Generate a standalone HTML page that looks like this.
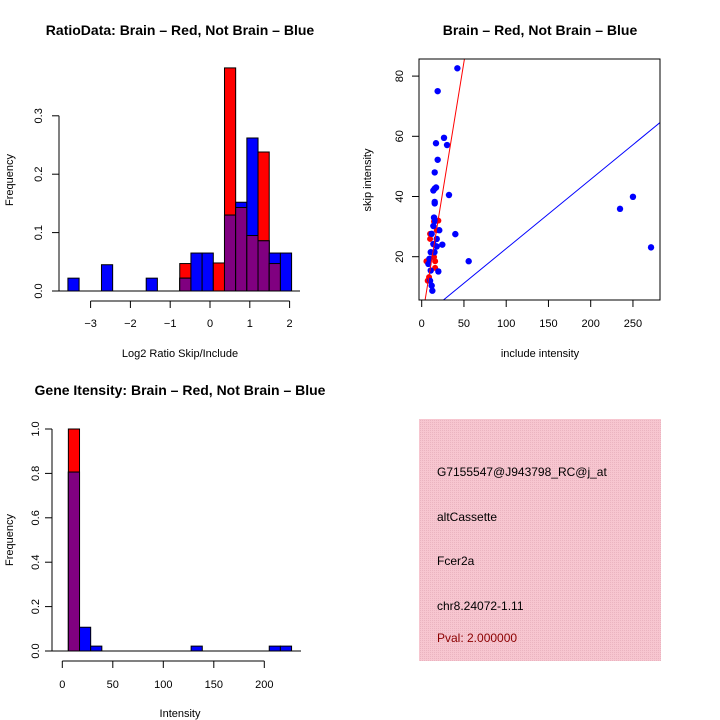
<!DOCTYPE html>
<html><head><meta charset="utf-8"><style>
body{margin:0;background:#fff;}
svg{display:block;font-family:"Liberation Sans",sans-serif;}
</style></head><body>
<svg id="c" width="720" height="720" xmlns="http://www.w3.org/2000/svg">
<defs><pattern id="pk" width="2" height="2" patternUnits="userSpaceOnUse"><rect width="2" height="2" fill="#f7c6d0"/><rect width="1" height="1" fill="#eab4c0"/></pattern></defs>
</svg>
<script>
// ---- Histogram 1 data (Log2 ratio) ----
const h1Start = -3.57, h1Width = 0.281;
const h1Red  = [0,0,0,0,0,0,0,0,0,0,0.047,0,0,0.048,0.382,0.143,0.095,0.238,0.047,0];
const h1Blue = [0.022,0,0,0.045,0,0,0,0.022,0,0,0.022,0.065,0.065,0,0.130,0.152,0.262,0.086,0.065,0.065];
const h1XTicks = [-3,-2,-1,0,1,2];
const h1YTicks = [0,0.1,0.2,0.3];
// ---- Scatter data ----
const blueX = [42.2,18.9,26.4,16.9,30,18.9,15.4,13.8,15.4,17,32.3,15.4,15.4,39.8,234.7,250,271.4,55.6,24.4,20.8,19.7,14.6,15.9,13.8,11.8,17.8,13.8,10.7,15.1,9.1,7.9,10.7,11.8,12.6,9.9,17.8];
const blueY = [82.6,75,59.5,57.7,57.1,52.2,48,42,42.6,43,40.5,38.2,37.7,27.5,35.9,39.9,23.1,18.5,24,28.8,15.1,33,31.9,30.2,27.6,25.9,24.2,21.5,21.5,19.3,17.6,15.4,10.4,8.7,12,23.4];
const redX = [9.9,9.9,7.9,5.6,8.7,7.1,15.9,14.6,15.9,14.6,17.8,19.7];
const redY = [27.6,25.9,17.6,18.5,13.2,12,18.5,19.9,16.3,31.7,28.8,32];
const redLine = [1.72,-1.3];   // slope, intercept
const blueLine = [0.23,-0.3];
const scXTicks = [0,50,100,150,200,250];
const scYTicks = [20,40,60,80];
// ---- Histogram 2 data (Intensity) ----
const h2Start = 6, h2Width = 11.05;
const h2Red  = [1.0,0,0,0,0,0,0,0,0,0,0,0,0,0,0,0,0,0,0,0];
const h2Blue = [0.806,0.107,0.022,0,0,0,0,0,0,0,0,0.022,0,0,0,0,0,0,0.022,0.022];
const h2XTicks = [0,50,100,150,200];
const h2YTicks = [0,0.2,0.4,0.6,0.8,1.0];
// ---- Info text ----
const infoLines = ["G7155547@J943798_RC@j_at","altCassette","Fcer2a","chr8.24072-1.11","Pval: 2.000000"];

const svg=document.getElementById('c');
const NS='http://www.w3.org/2000/svg';
function mk(tag,attrs,parent){const e=document.createElementNS(NS,tag);for(const k in attrs)e.setAttribute(k,attrs[k]);(parent||svg).appendChild(e);return e;}
function txt(s,x,y,size,anchor,extra,parent){const e=mk('text',Object.assign({x:x,y:y,'font-size':size,'text-anchor':anchor||'middle'},extra||{}),parent);e.textContent=s;return e;}

function hist(name,start,w,red,blue,xs,ys){
  const g=mk('g',{});
  
  
  for(let i=0;i<red.length;i++){
    const x0=xs(start+i*w),x1=xs(start+(i+1)*w);
    const r=red[i],b=blue[i];
    if(r>0){const e=mk('rect',{x:x0,y:ys(r),width:x1-x0,height:ys(0)-ys(r),fill:'#f00',stroke:'#000','stroke-width':1},g);
      }
    if(b>0){const e=mk('rect',{x:x0,y:ys(b),width:x1-x0,height:ys(0)-ys(b),fill:'#00f',stroke:'#000','stroke-width':1},g);
      }
    const m=Math.min(r,b);
    if(m>0){const e=mk('rect',{x:x0,y:ys(m),width:x1-x0,height:ys(0)-ys(m),fill:'#800080',stroke:'#000','stroke-width':1},g);
      }
  }
  return g;
}

// ---------- Histogram 1 ----------
(function(){
  const xs=v=>210+v*39.8, ys=v=>291-v*584;
  hist('ratio-histogram',h1Start,h1Width,h1Red,h1Blue,xs,ys);
  mk('line',{x1:59,y1:ys(0),x2:59,y2:ys(0.3),stroke:'#000'});
  h1YTicks.forEach(t=>{mk('line',{x1:52,y1:ys(t),x2:59,y2:ys(t),stroke:'#000'});
    txt(t.toFixed(1),0,0,11,'middle',{transform:`translate(42,${ys(t)}) rotate(-90)`});});
  mk('line',{x1:59,y1:291,x2:300,y2:291,stroke:'#000'});
  mk('line',{x1:xs(-3),y1:301,x2:xs(2),y2:301,stroke:'#000'});
  h1XTicks.forEach(t=>{mk('line',{x1:xs(t),y1:301,x2:xs(t),y2:308,stroke:'#000'});txt(t<0?'−'+(-t):''+t,xs(t),327,11);});
  txt('RatioData: Brain – Red, Not Brain – Blue',180,35,14,'middle',{'font-weight':'bold',});
  txt('Log2 Ratio Skip/Include',180,357,11,'middle',{});
  txt('Frequency',0,0,11,'middle',{transform:'translate(13,180) rotate(-90)',});
})();

// ---------- Scatter ----------
(function(){
  const xs=v=>421.7+v*0.845, ys=v=>256.7-(v-20)*3.01;
  const L=419,R=660,T=59,B=300;
  const g=mk('g',{});
  
  
  const cp=mk('clipPath',{id:'sc'});mk('rect',{x:L,y:T,width:R-L,height:B-T},cp);
  const pts=mk('g',{'clip-path':'url(#sc)'},g);
  function line(p,col){const xa=-5,xb=290;mk('line',{x1:xs(xa),y1:ys(p[0]*xa+p[1]),x2:xs(xb),y2:ys(p[0]*xb+p[1]),stroke:col,'stroke-width':1},pts);}
  for(let i=0;i<redX.length;i++){const e=mk('circle',{cx:xs(redX[i]),cy:ys(redY[i]),r:3,fill:'#f00'},pts);
    }
  for(let i=0;i<blueX.length;i++){const e=mk('circle',{cx:xs(blueX[i]),cy:ys(blueY[i]),r:3.2,fill:'#00f'},pts);
    }
  line(redLine,'#f00');line(blueLine,'#00f');
  mk('rect',{x:L,y:T,width:R-L,height:B-T,fill:'none',stroke:'#000'},g);
  scXTicks.forEach(t=>{mk('line',{x1:xs(t),y1:B,x2:xs(t),y2:B+7,stroke:'#000'});txt(''+t,xs(t),327,11);});
  scYTicks.forEach(t=>{mk('line',{x1:L-7,y1:ys(t),x2:L,y2:ys(t),stroke:'#000'});txt(''+t,0,0,11,'middle',{transform:`translate(${L-16},${ys(t)}) rotate(-90)`});});
  txt('Brain – Red, Not Brain – Blue',540,35,14,'middle',{'font-weight':'bold',});
  txt('include intensity',540,357,11,'middle',{});
  txt('skip intensity',0,0,11,'middle',{transform:'translate(371,180) rotate(-90)',});
})();

// ---------- Histogram 2 ----------
(function(){
  const xs=v=>62.3+v*1.01, ys=v=>651-v*222;
  hist('intensity-histogram',h2Start,h2Width,h2Red,h2Blue,xs,ys);
  mk('line',{x1:52,y1:ys(0),x2:52,y2:ys(1),stroke:'#000'});
  h2YTicks.forEach(t=>{mk('line',{x1:45,y1:ys(t),x2:52,y2:ys(t),stroke:'#000'});
    txt(t.toFixed(1),0,0,11,'middle',{transform:`translate(39,${ys(t)}) rotate(-90)`});});
  mk('line',{x1:52,y1:651,x2:301,y2:651,stroke:'#000'});
  mk('line',{x1:xs(0),y1:661,x2:xs(200),y2:661,stroke:'#000'});
  h2XTicks.forEach(t=>{mk('line',{x1:xs(t),y1:661,x2:xs(t),y2:668,stroke:'#000'});txt(''+t,xs(t),688,11);});
  txt('Gene Itensity: Brain – Red, Not Brain – Blue',180,395,14,'middle',{'font-weight':'bold',});
  txt('Intensity',180,717,11,'middle',{});
  txt('Frequency',0,0,11,'middle',{transform:'translate(13,540) rotate(-90)',});
})();

// ---------- Info panel ----------
(function(){
  const g=mk('g',{});
  
  
  mk('rect',{x:419,y:419,width:242,height:242,fill:'url(#pk)'},g);
  const ys=[476,521,565,610,642];
  infoLines.forEach((s,i)=>{const e=txt(s,437,ys[i],12,'start',{fill:i===4?'#8b0000':'#000'},g);
    });
})();
</script>
</body></html>
